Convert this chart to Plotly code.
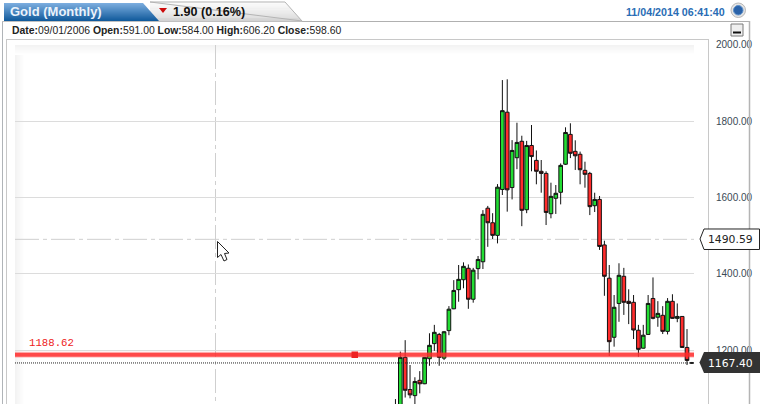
import plotly.graph_objects as go
import pandas as pd

W, H = 775, 404
months = [d.strftime("%Y-%m") for d in pd.date_range("2009-10-01", periods=62, freq="MS")]
opens = [1030,1045,1182,1098,1082,1122,1113,1178.5,1218,1242,1180,1252,1309,1359,1385,1415,1334,1414,1432,1572,1534,1501,
         1621,1823,1626,1704,1747,1568,1736,1697,1668.5,1663,1557.6,1598,1613.6,1687,1765,1720.7,1713,1671,1663,1578.5,
         1595,1476,1389,1234.5,1323,1394,1328.6,1326,1253,1206,1242,1336,1287,1292,1250,1328.6,1284,1289,1208,1167.4]
highs = [1073,1197,1227,1162,1130,1146,1183,1245,1267,1246,1251,1316,1384,1423.5,1430.5,1425,1416,1447,1567,1578,1559,1635,
         1907,1909,1750,1795.5,1761.5,1748,1789.5,1723,1698,1668.5,1638.7,1632.6,1689,1783.5,1794,1749.5,1720,1693.6,1667,1612.5,
         1604,1487,1423.5,1345,1428,1416,1360,1345,1267,1267,1345,1391,1329,1316,1337,1347,1323,1290,1256,1170]
lows = [1000,1030,1077,1075,1060,1088,1112,1160,1199,1160,1175,1240,1308,1327.5,1362.6,1309,1325,1386,1413,1471,1491.5,1480,
        1606.5,1563,1595,1674,1525,1559,1668.5,1634.5,1612.5,1528,1545.6,1557,1582,1685,1703,1672,1634.5,1625.6,1554,1562,
        1463,1343,1185.6,1210,1275,1293,1269,1230,1184,1205,1241,1281.5,1262,1243,1242,1283,1274,1207,1162,1165]
closes = [1050,1182,1096,1084,1119,1113,1182,1213.5,1247.5,1182,1249,1308,1357,1386,1420,1334,1410,1438,1556,1534,1501,1627,
          1827,1620,1723,1744,1566.5,1736,1707,1668.5,1663,1561,1603,1611,1684,1770,1715.5,1709,1672.6,1660.6,1576,1595,
          1472,1394,1223,1313,1396.6,1326,1323,1253.5,1203,1240,1323,1284,1297,1250,1328.6,1284,1289,1208,1174,1167.4]
tick_vals = [1200, 1400, 1600, 1800, 2000]
tick_text = ["1200.00", "1400.00", "1600.00", "1800.00", "2000.00"]
support_level = 1188.62
last_price = 1167.40
cross_price = 1490.59

def X(x): return x / W
def Y(y): return 1 - y / H

def poly(points, fill=None, line=None, lw=1, layer="above"):
    path = "M " + " L ".join(f"{X(a):.5f},{Y(b):.5f}" for a, b in points) + " Z"
    return dict(type="path", xref="paper", yref="paper", path=path, layer=layer,
                fillcolor=fill or "rgba(0,0,0,0)", line=dict(color=line or "rgba(0,0,0,0)", width=lw if line else 0))

def rect(x0, y0, x1, y1, fill=None, line=None, lw=1, layer="above"):
    return dict(type="rect", xref="paper", yref="paper", x0=X(x0), x1=X(x1), y0=Y(y0), y1=Y(y1), layer=layer,
                fillcolor=fill or "rgba(0,0,0,0)", line=dict(color=line or "rgba(0,0,0,0)", width=lw if line else 0))

def hline(x0, x1, y, color, lw=1, dash="solid", layer="above"):
    return dict(type="line", xref="paper", yref="paper", x0=X(x0), x1=X(x1), y0=Y(y), y1=Y(y), layer=layer,
                line=dict(color=color, width=lw, dash=dash))

def vline(x, y0, y1, color, lw=1, dash="solid", layer="above"):
    return dict(type="line", xref="paper", yref="paper", x0=X(x), x1=X(x), y0=Y(y0), y1=Y(y1), layer=layer,
                line=dict(color=color, width=lw, dash=dash))

def mix(c0, c1, t):
    return "rgb(" + ",".join(str(round(a + (b - a) * t)) for a, b in zip(c0, c1)) + ")"

shapes = []
for i in range(10):
    col = mix((243, 243, 243), (255, 255, 255), i / 9)
    shapes.append(rect(15, 45 + i, 694, 46 + i, fill=col, layer="below"))
    shapes.append(rect(15 + i, 45 + i, 16 + i, 404, fill=col, layer="below"))
shapes += [
    vline(2.5, 21, 404, "#b0b4b8"), vline(6.5, 39, 404, "#c8c8c8"),
    hline(6, 708, 39.5, "#c8c8c8"), vline(708.5, 39, 404, "#c8c8c8"),
    hline(302, 750, 21.5, "#b0b0b0"), vline(749.5, 21, 404, "#b4b4b4", 1.5),
    hline(2, 302, 21.5, "#c0c0c0"),
]
N = 18
for i in range(N):
    t0, t1 = i / N, (i + 1) / N
    ya, yb = 2 + 19 * t0, 2 + 19 * t1
    xa, xb = 285 + 17 * t0, 285 + 17 * t1
    shapes.append(poly([(150, ya), (xa, ya), (xb, yb), (150, yb)], fill=mix((252, 252, 252), (208, 208, 208), t0)))
shapes.append(poly([(150, 2), (285, 2), (302, 21)], line="#b4b4b4"))
for i in range(N):
    t0, t1 = i / N, (i + 1) / N
    ya, yb = 3 + 18 * t0, 3 + 18 * t1
    xa, xb = 143 + 16 * t0, 143 + 16 * t1
    shapes.append(poly([(4, ya), (xa, ya), (xb, yb), (4, yb)], fill=mix((122, 172, 222), (12, 86, 152), t0)))
shapes.append(poly([(159, 8), (167, 8), (163, 13)], fill="#cc0a0a"))
shapes.append(dict(type="circle", xref="paper", yref="paper", x0=X(731), x1=X(745.5), y0=Y(3), y1=Y(17.5),
                   fillcolor="#e4e4e4", line=dict(color="#b8b8b8", width=1)))
shapes.append(dict(type="circle", xref="paper", yref="paper", x0=X(733.5), x1=X(743), y0=Y(5.5), y1=Y(15),
                   fillcolor="#2a62a8", line=dict(color="#5c8fca", width=1)))
shapes.append(rect(731, 24, 743, 36, fill="#efefef", line="#7a7a7a"))
shapes.append(rect(733, 31.5, 741, 33.5, fill="#111111"))
shapes += [
    dict(type="line", xref="paper", yref="y", x0=X(15), x1=X(694), y0=cross_price, y1=cross_price, layer="below",
         line=dict(color="#cfcfcf", width=1, dash="24px,4px,4px,4px")),
    vline(215.5, 45, 404, "#cfcfcf", 1, "24px,4px,4px,4px", layer="below"),
    dict(type="line", xref="paper", yref="y", x0=X(15), x1=X(692), y0=last_price, y1=last_price, layer="above",
         line=dict(color="#222222", width=1, dash="1px,1px")),
    dict(type="line", xref="paper", yref="y", x0=X(15), x1=X(694), y0=support_level, y1=support_level, layer="above",
         line=dict(color="rgba(255,45,45,0.82)", width=4)),
    dict(type="line", xref="paper", yref="y", x0=X(15), x1=X(694), y0=support_level, y1=support_level, layer="above",
         line=dict(color="rgba(255,45,45,0.25)", width=6)),
    rect(351.5, 351.5, 358, 358, fill="#ee2222"),
]
shapes.append(poly([(704, 229), (759.5, 229), (759.5, 249.5), (704, 249.5), (700, 239)], fill="#ffffff", line="#222222"))
shapes.append(poly([(704, 352), (760, 352), (760, 373), (704, 373), (699.5, 362.5)], fill="#333333"))
shapes.append(poly([(217.5, 241.5), (217.5, 257.5), (221, 254.5), (224, 261), (227, 259.5), (224.5, 253.5), (229, 253)],
                   fill="#ffffff", line="#222222"))

def note(x, y, text, size, color, family="Liberation Sans", anchor="left"):
    return dict(x=X(x), y=Y(y), xref="paper", yref="paper", text=text, showarrow=False, xanchor=anchor,
                yanchor="middle", align=anchor, borderpad=0, font=dict(size=size, color=color, family=family))

annotations = [
    note(9, 11.5, "<b>Gold (Monthly)</b>", 13, "#eaf2fb"),
    note(172, 11.5, "<b>1.90 (0.16%)</b>", 12.6, "#111111"),
    note(11, 30.5, "<b>Date:</b>09/01/2006 <b>Open:</b>591.00 <b>Low:</b>584.00 <b>High:</b>606.20 <b>Close:</b>598.60", 10.4, "#222222"),
    note(725.5, 11.5, "<b>11/04/2014 06:41:40</b>", 10.7, "#2a6db5", anchor="right"),
    note(28, 342.5, "1188.62", 10.7, "#ee2222", family="Liberation Mono"),
    note(707, 239.5, "1490.59", 10.8, "#222222", family="DejaVu Sans"),
    note(707, 363, "1167.40", 10.8, "#ffffff", family="DejaVu Sans"),
]

fig = go.Figure(go.Candlestick(
    x=months, open=opens, high=highs, low=lows, close=closes, whiskerwidth=0,
    increasing=dict(fillcolor="#22dd33", line=dict(color="#111111", width=1)),
    decreasing=dict(fillcolor="#ff2c2c", line=dict(color="#111111", width=1)),
    showlegend=False, hoverinfo="skip"))

fig.update_layout(
    width=W, height=H, margin=dict(l=0, r=0, t=0, b=0), autosize=False,
    paper_bgcolor="#ffffff", plot_bgcolor="#ffffff", showlegend=False,
    shapes=shapes, annotations=annotations, boxgap=0.25, boxgroupgap=0,
    xaxis=dict(domain=[X(15), X(694)], range=[-78.3, 61.44], type="category", showgrid=False, zeroline=False,
               showticklabels=False, ticks="", showline=False, rangeslider=dict(visible=False), fixedrange=True),
    yaxis=dict(domain=[0, Y(44.5)], range=[1060.1, 2000], side="right", tickmode="array", tickvals=tick_vals,
               ticktext=tick_text, gridcolor="#dcdcdc", gridwidth=1, zeroline=False, showline=False, ticks="outside",
               ticklen=19, tickcolor="rgba(0,0,0,0)", tickfont=dict(family="Liberation Sans", size=10, color="#3a4a55"),
               automargin=False, fixedrange=True),
)
fig.write_html("out.html", config=dict(displayModeBar=False),
               post_script="document.body.style.margin='0';")
